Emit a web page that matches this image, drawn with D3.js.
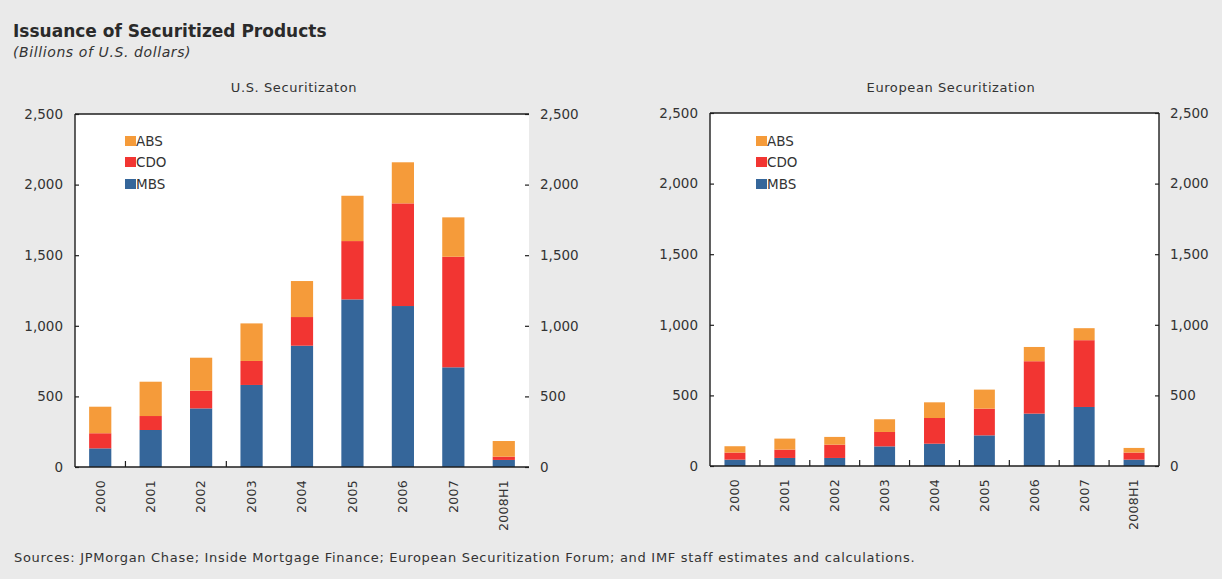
<!DOCTYPE html>
<html>
<head>
<meta charset="utf-8">
<script src="https://cdn.jsdelivr.net/npm/d3@7/dist/d3.min.js"></script>
<style>
  html, body { margin: 0; padding: 0; background: #eaeaea; }
  svg { display: block; }
  text { font-family: "DejaVu Sans", "Liberation Sans", Arial, sans-serif; fill: #2b2b2b; }
</style>
</head>
<body>
<svg id="chart" width="1222" height="579"></svg>
<script>
// Categories (issuance years; last one is first half of 2008)
const years = ["2000", "2001", "2002", "2003", "2004", "2005", "2006", "2007", "2008H1"];
const seriesNames = ["MBS", "CDO", "ABS"];
const legendOrder = ["ABS", "CDO", "MBS"];
const yTicks = [0, 500, 1000, 1500, 2000, 2500];

// U.S. securitization, billions of U.S. dollars
const usMBS = [132, 262, 415, 581, 859, 1187, 1140, 706, 50];
const usCDO = [107, 99, 126, 170, 203, 413, 727, 783, 23];
const usABS = [188, 243, 233, 266, 255, 321, 291, 279, 111];

// European securitization, billions of U.S. dollars
const euMBS = [45, 57, 57, 139, 158, 217, 371, 418, 45];
const euCDO = [50, 59, 94, 102, 182, 189, 371, 473, 50];
const euABS = [45, 78, 55, 90, 111, 135, 101, 85, 33];

const colors = { MBS: "#35669a", CDO: "#f23532", ABS: "#f59b3a" };

const svg = d3.select("#chart");

svg.append("text").attr("x", 13).attr("y", 37)
  .style("font-size", "17px").style("font-weight", "bold").style("fill", "#2a2a2a")
  .text("Issuance of Securitized Products");
svg.append("text").attr("x", 13).attr("y", 57)
  .style("font-size", "14px").style("font-style", "italic").style("letter-spacing", "0.6px")
  .style("fill", "#333")
  .text("(Billions of U.S. dollars)");
svg.append("text").attr("x", 14).attr("y", 562)
  .style("font-size", "13px").style("letter-spacing", "0.7px").style("fill", "#333")
  .text("Sources: JPMorgan Chase; Inside Mortgage Finance; European Securitization Forum; and IMF staff estimates and calculations.");

function drawPanel(opts) {
  const { x0, x1, yTop, yBot, title, titleX, mbs, cdo, abs, barPad, boundaryTicks, fullBox, legendX } = opts;
  const g = svg.append("g");

  const rows = years.map((y, i) => ({ year: y, MBS: mbs[i], CDO: cdo[i], ABS: abs[i] }));
  const stacked = d3.stack().keys(seriesNames)(rows);

  const x = d3.scaleBand().domain(years).range([x0, x1])
    .paddingInner(barPad).paddingOuter(barPad / 2);
  const y = d3.scaleLinear().domain([0, 2500]).range([yBot, yTop]);

  // plot background
  g.append("rect").attr("x", x0).attr("y", yTop).attr("width", x1 - x0).attr("height", yBot - yTop)
    .attr("fill", "#ffffff");

  // panel title
  g.append("text").attr("x", titleX).attr("y", 92).attr("text-anchor", "middle")
    .style("font-size", "13px").style("letter-spacing", "0.6px").style("fill", "#333").text(title);

  // stacked bars
  g.selectAll("g.layer").data(stacked).join("g")
    .attr("class", "layer").attr("fill", d => colors[d.key])
    .selectAll("rect").data(d => d).join("rect")
    .attr("x", d => x(d.data.year))
    .attr("width", x.bandwidth())
    .attr("y", d => y(d[1]))
    .attr("height", d => y(d[0]) - y(d[1]));

  // frame
  const frame = g.append("g").attr("stroke", "#1e1e1e").attr("stroke-width", 1.4).attr("fill", "none");
  frame.append("line").attr("x1", x0).attr("x2", x1).attr("y1", yTop).attr("y2", yTop);
  frame.append("line").attr("x1", x0).attr("x2", x1).attr("y1", yBot).attr("y2", yBot);
  frame.append("line").attr("x1", x0).attr("x2", x0).attr("y1", yTop).attr("y2", yBot);
  if (fullBox) frame.append("line").attr("x1", x1).attr("x2", x1).attr("y1", yTop).attr("y2", yBot);

  // left and right value axes (inward ticks)
  const leftAxis = d3.axisRight(y).tickValues(yTicks).tickSize(4).tickFormat("");
  const rightAxis = d3.axisLeft(y).tickValues(yTicks).tickSize(4).tickFormat("");
  g.append("g").attr("transform", `translate(${x0},0)`).call(leftAxis)
    .call(s => s.select(".domain").remove())
    .selectAll("line").attr("stroke", "#1e1e1e").attr("stroke-width", 1.2);
  g.append("g").attr("transform", `translate(${x1},0)`).call(rightAxis)
    .call(s => s.select(".domain").remove())
    .selectAll("line").attr("stroke", "#1e1e1e").attr("stroke-width", 1.2);

  const fmt = d3.format(",");
  g.selectAll("text.yl").data(yTicks).join("text").attr("class", "yl")
    .attr("x", x0 - 12).attr("y", d => y(d)).attr("dy", "0.35em").attr("text-anchor", "end")
    .style("font-size", "13.5px").style("fill", "#333").text(fmt);
  g.selectAll("text.yr").data(yTicks).join("text").attr("class", "yr")
    .attr("x", x1 + 11).attr("y", d => y(d)).attr("dy", "0.35em").attr("text-anchor", "start")
    .style("font-size", "13.5px").style("fill", "#333").text(fmt);

  // category separators on the base line
  const step = x.step();
  g.selectAll("line.sep").data(boundaryTicks).join("line").attr("class", "sep")
    .attr("x1", i => x(years[i]) - (step - x.bandwidth()) / 2)
    .attr("x2", i => x(years[i]) - (step - x.bandwidth()) / 2)
    .attr("y1", yBot).attr("y2", yBot - 6)
    .attr("stroke", "#1e1e1e").attr("stroke-width", 1.2);

  // rotated category labels
  g.selectAll("text.xl").data(years).join("text").attr("class", "xl")
    .attr("transform", d => `translate(${x(d) + x.bandwidth() / 2},${yBot + 13}) rotate(-90)`)
    .attr("dy", "0.35em").attr("text-anchor", "end")
    .style("font-size", "12.5px").style("letter-spacing", "0.3px").style("fill", "#333").text(d => d);

  // legend
  const lg = g.append("g").attr("transform", `translate(${legendX},0)`);
  const ly = [141, 162, 184];
  legendOrder.forEach((k, i) => {
    lg.append("rect").attr("x", 0).attr("y", ly[i] - 5).attr("width", 11).attr("height", 10)
      .attr("fill", colors[k]);
    lg.append("text").attr("x", 11).attr("y", ly[i]).attr("dy", "0.36em")
      .style("font-size", "13.5px").style("fill", "#333").text(k);
  });
}

drawPanel({
  x0: 75, x1: 529, yTop: 114, yBot: 467,
  title: "U.S. Securitizaton", titleX: 294,
  mbs: usMBS, cdo: usCDO, abs: usABS,
  barPad: 0.56, boundaryTicks: [1, 3], fullBox: false, legendX: 125
});

drawPanel({
  x0: 710, x1: 1159, yTop: 113, yBot: 466,
  title: "European Securitization", titleX: 951,
  mbs: euMBS, cdo: euCDO, abs: euABS,
  barPad: 0.58, boundaryTicks: [1, 2, 3, 4, 5, 6, 7, 8], fullBox: true, legendX: 756
});
</script>
</body>
</html>
